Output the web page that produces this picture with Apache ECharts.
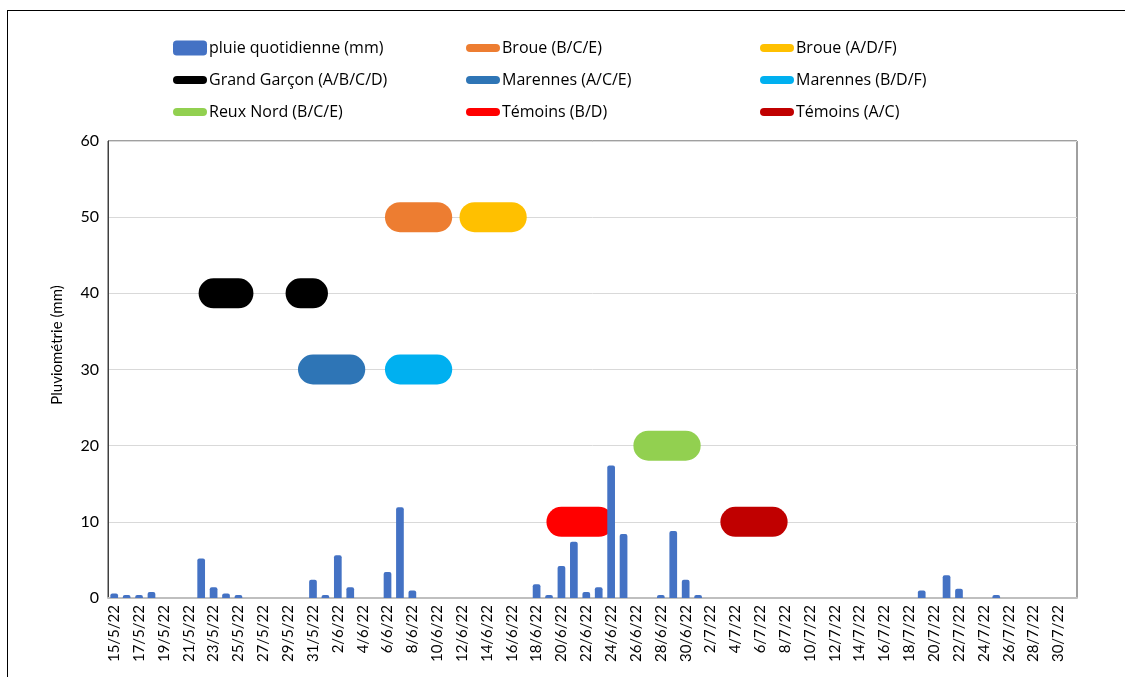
<!DOCTYPE html>
<html>
<head>
<meta charset="utf-8">
<script src="https://cdn.jsdelivr.net/npm/echarts@6/dist/echarts.min.js"></script>
<style>
  html, body { margin: 0; padding: 0; background: #fff; }
  #frame { position: absolute; left: 7px; top: 10px; width: 1130px; height: 680px; border: 1.5px solid #000; box-sizing: border-box; }
  #chart { position: absolute; left: 0; top: 0; width: 1125px; height: 677px; }
</style>
</head>
<body>
<div id="frame"></div>
<div id="chart"></div>
<script>
// Daily categories, 15 May to 31 July 2022
const days = [
  '15/5/22','16/5/22','17/5/22','18/5/22','19/5/22','20/5/22','21/5/22','22/5/22','23/5/22','24/5/22',
  '25/5/22','26/5/22','27/5/22','28/5/22','29/5/22','30/5/22','31/5/22',
  '1/6/22','2/6/22','3/6/22','4/6/22','5/6/22','6/6/22','7/6/22','8/6/22','9/6/22','10/6/22',
  '11/6/22','12/6/22','13/6/22','14/6/22','15/6/22','16/6/22','17/6/22','18/6/22','19/6/22','20/6/22',
  '21/6/22','22/6/22','23/6/22','24/6/22','25/6/22','26/6/22','27/6/22','28/6/22','29/6/22','30/6/22',
  '1/7/22','2/7/22','3/7/22','4/7/22','5/7/22','6/7/22','7/7/22','8/7/22','9/7/22','10/7/22',
  '11/7/22','12/7/22','13/7/22','14/7/22','15/7/22','16/7/22','17/7/22','18/7/22','19/7/22','20/7/22',
  '21/7/22','22/7/22','23/7/22','24/7/22','25/7/22','26/7/22','27/7/22','28/7/22','29/7/22','30/7/22','31/7/22'
];

// Daily rainfall (mm), one value per day above
const pluie = [
  0.6, 0.4, 0.4, 0.8, 0, 0, 0, 5.2, 1.4, 0.6,
  0.4, 0, 0, 0, 0, 0, 2.4,
  0.4, 5.6, 1.4, 0, 0, 3.4, 11.9, 1.0, 0, 0,
  0, 0, 0, 0, 0, 0, 0, 1.8, 0.4, 4.2,
  7.4, 0.8, 1.4, 17.4, 8.4, 0, 0, 0.4, 8.8, 2.4,
  0.4, 0, 0, 0, 0, 0, 0, 0, 0, 0,
  0, 0, 0, 0, 0, 0, 0, 0, 1.0, 0,
  3.0, 1.2, 0, 0, 0.4, 0, 0, 0, 0, 0, 0
];

// Treatment periods: [first day, last day], drawn at a fixed level
const brouBCE = [['7/6/22', '10/6/22']];
const brouADF = [['13/6/22', '16/6/22']];
const grandGarcon = [['23/5/22', '25/5/22'], ['30/5/22', '31/5/22']];
const marennesACE = [['31/5/22', '3/6/22']];
const marennesBDF = [['7/6/22', '10/6/22']];
const reuxNord = [['27/6/22', '30/6/22']];
const temoinsBD = [['20/6/22', '23/6/22']];
const temoinsAC = [['4/7/22', '7/7/22']];

const yTicks = [0, 10, 20, 30, 40, 50, 60];

// Build a line series data array: level inside each period, gap elsewhere
function periodData(ranges, level) {
  const out = days.map(() => null);
  ranges.forEach(([a, b]) => {
    const i0 = days.indexOf(a), i1 = days.indexOf(b);
    for (let i = i0; i <= i1; i++) out[i] = level;
  });
  return out;
}

const periodSeries = [
  { name: 'Broue (B/C/E)', ranges: brouBCE, level: 50, color: '#ED7D31' },
  { name: 'Broue (A/D/F)', ranges: brouADF, level: 50, color: '#FFC000' },
  { name: 'Grand Garçon (A/B/C/D)', ranges: grandGarcon, level: 40, color: '#000000' },
  { name: 'Marennes (A/C/E)', ranges: marennesACE, level: 30, color: '#2E75B6' },
  { name: 'Marennes (B/D/F)', ranges: marennesBDF, level: 30, color: '#00B0F0' },
  { name: 'Reux Nord (B/C/E)', ranges: reuxNord, level: 20, color: '#92D050' },
  { name: 'Témoins (B/D)', ranges: temoinsBD, level: 10, color: '#FF0000' },
  { name: 'Témoins (A/C)', ranges: temoinsAC, level: 10, color: '#C00000' }
];

const FONT = 'Lato';
const LEGEND_FONT = 'Open Sans';
const capsule = 'path://M4,0 H30 A4,4 0 0 1 30,8 H4 A4,4 0 0 1 4,0 Z';

function legendCol(left, names, firstIsBar) {
  return {
    orient: 'vertical',
    left: left,
    top: 40,
    itemWidth: 34,
    itemHeight: 15,
    itemGap: 16,
    padding: 0,
    selectedMode: false,
    textStyle: { fontFamily: LEGEND_FONT, fontSize: 16, color: '#000', padding: [0, 0, 0, -3], lineHeight: 15 },
    data: names.map((n, i) => ({
      name: n,
      icon: (firstIsBar && i === 0) ? 'roundRect' : capsule
    }))
  };
}

const chart = echarts.init(document.getElementById('chart'), null, { renderer: 'canvas' });

chart.setOption({
  animation: false,
  backgroundColor: 'transparent',
  legend: [
    legendCol(173, ['pluie quotidienne (mm)', 'Grand Garçon (A/B/C/D)', 'Reux Nord (B/C/E)'], true),
    legendCol(466, ['Broue (B/C/E)', 'Marennes (A/C/E)', 'Témoins (B/D)'], false),
    legendCol(760, ['Broue (A/D/F)', 'Marennes (B/D/F)', 'Témoins (A/C)'], false)
  ],
  graphic: [{
    type: 'text',
    x: 57, y: 345,
    rotation: Math.PI / 2,
    style: {
      text: 'Pluviométrie (mm)',
      font: '15px Lato', fill: '#000',
      align: 'center', verticalAlign: 'middle'
    }
  }],
  grid: {
    left: 108, right: 48, top: 141, bottom: 79,
    show: true, borderColor: '#404040', borderWidth: 1, containLabel: false
  },
  xAxis: {
    type: 'category',
    data: days,
    boundaryGap: true,
    axisLine: { show: true, lineStyle: { color: '#BFBFBF', width: 2 } },
    axisTick: { show: false },
    axisLabel: {
      interval: 1, rotate: 90, fontFamily: FONT, fontSize: 15, color: '#000', margin: 7
    },
    splitLine: { show: false }
  },
  yAxis: {
    type: 'value',
    min: yTicks[0], max: yTicks[yTicks.length - 1], interval: 10,
    axisLine: { show: true, lineStyle: { color: '#404040', width: 1 } },
    axisTick: { show: false },
    axisLabel: { fontFamily: FONT, fontSize: 16, color: '#000', margin: 9 },
    splitLine: { show: true, lineStyle: { color: '#D9D9D9', width: 1 } }
  },
  series: [
    {
      name: 'pluie quotidienne (mm)',
      type: 'bar',
      data: pluie,
      barWidth: '62%',
      itemStyle: { color: '#4472C4', borderRadius: [2, 2, 0, 0] },
      z: 3
    }
  ].concat(periodSeries.map(p => ({
    name: p.name,
    type: 'line',
    data: periodData(p.ranges, p.level),
    connectNulls: false,
    showSymbol: false,
    symbol: 'none',
    color: p.color,
    lineStyle: { color: p.color, width: 30, cap: 'round', join: 'round' },
    itemStyle: { color: p.color },
    z: 2
  })))
});
</script>
</body>
</html>
